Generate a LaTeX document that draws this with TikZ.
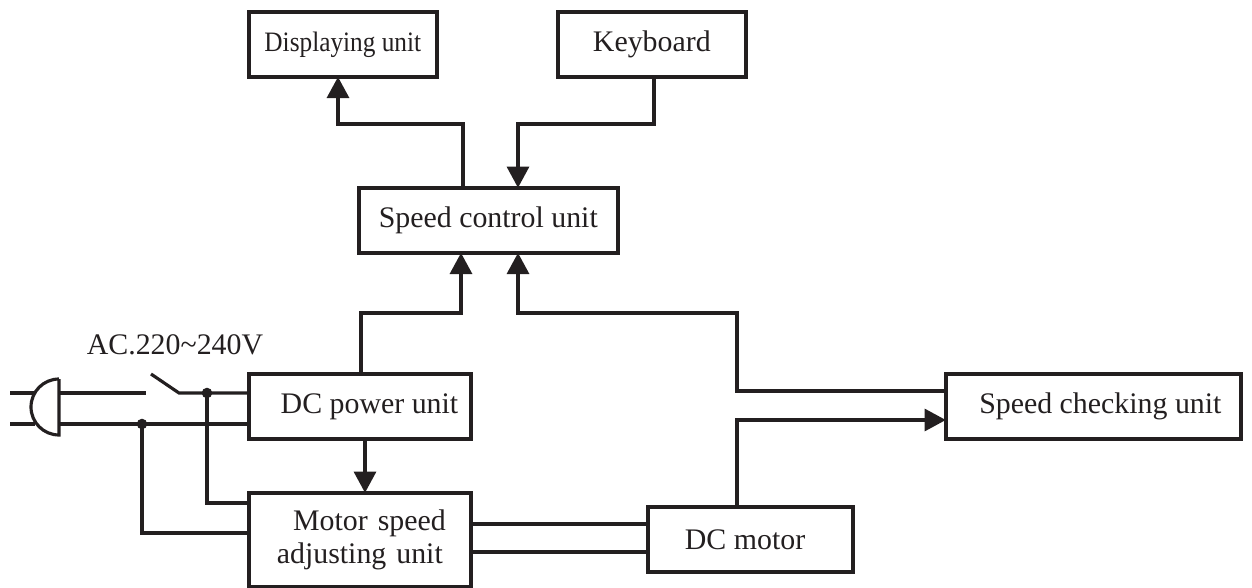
\documentclass[tikz,border=0pt]{standalone}
\usepackage{fontspec}
\setmainfont{Liberation Serif}
\usetikzlibrary{arrows.meta,calc}
\definecolor{ink}{HTML}{231F20}
\begin{document}
\begin{tikzpicture}[x=0.02cm, y=-0.02cm, auto,
    every node/.style={inner sep=0pt, rectangle, text centered, text=ink, font=\fontsize{17}{18.7}\selectfont},
    field/.style={draw=ink, line width=2.1pt, minimum height=1.3cm, anchor=north west},
    link/.style={draw=ink, line width=1.8pt},
    flow/.style={link, -{Triangle[length=12pt,width=12.5pt]}, shorten >=-1pt},
    tap/.style={circle, fill=ink, minimum size=6pt, outer sep=0pt}]
\useasboundingbox (0,0) rectangle (1252,588);

\node [field, minimum width=3.76cm] (display) at (247,10) {\fontsize{16}{18}\selectfont\addfontfeature{FakeStretch=0.9}Displaying unit};
\node [field, minimum width=3.76cm] (keyboard) at (556,10) {Keyboard};
\node [field, minimum width=5.18cm] (control) at (357,186) {Speed control unit};
\node [field, minimum width=4.44cm] (power) at (247,372) {\hspace*{11pt}DC power unit};
\node [field, minimum width=4.44cm, minimum height=1.88cm, text width=4.4cm] (adjust) at (247,491) {\hspace*{11pt}Motor speed\\adjusting unit};
\node [field, minimum width=4.1cm] (motor) at (646,505) {DC motor\hspace*{6pt}};
\node [field, minimum width=5.9cm] (check) at (944,372) {\hspace*{8pt}Speed checking unit};
\node (mains) at (175,345) {AC.220\textasciitilde240V};

\node [tap] (tapa) at (207,393) {};
\node [tap] (tapb) at (142,424) {};
\coordinate (plugtop) at (59,379);
\coordinate (plugbot) at (59,435);
\coordinate (inleta) at (10,393);
\coordinate (inletb) at (10,424);
\coordinate (swa) at (146,393);
\coordinate (swb) at (179,393);
\coordinate (swc) at (151,374);

% control unit
\draw [flow] (control.north -| 463,0) |- (338,124) -- (display.south -| 338,0);
\draw [flow] (keyboard.south -| 654,0) |- (518,124) -- (control.north -| 518,0);
\draw [flow] (power.north -| 361,0) |- (461,313) -- (control.south -| 461,0);
\draw [flow] (check.west |- 0,391) -| (737,313) -| (control.south -| 518,0);
\draw [flow] (motor.north -| 737,0) |- (check.west |- 0,420);
\draw [flow] (power.south -| 365,0) -- (adjust.north -| 365,0);
\draw [link] (adjust.east |- 0,524) -- (motor.west |- 0,524);
\draw [link] (adjust.east |- 0,552) -- (motor.west |- 0,552);

% mains side
\draw [link] (plugtop) -- (plugbot) arc (90:270:28);
\draw [link] (inleta) -- (35,393);
\draw [link] (inletb) -- (35,424);
\draw [link] (plugtop |- swa) -- (swa);
\draw [link] (swc) -- (swb) -- (tapa.center) -- (power.west |- tapa);
\draw [link] (plugbot |- tapb) -- (tapb.center) -- (power.west |- tapb);
\draw [link] (tapa.center) |- (adjust.west |- 0,503);
\draw [link] (tapb.center) |- (adjust.west |- 0,533);
\end{tikzpicture}
\end{document}
